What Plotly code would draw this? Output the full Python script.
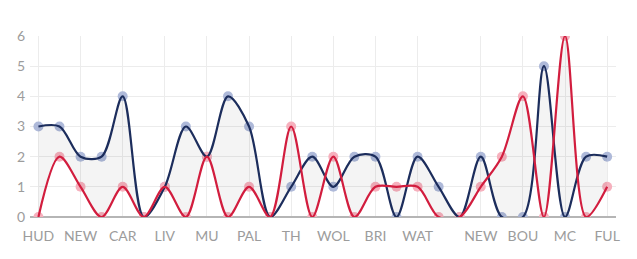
import plotly.graph_objects as go

# Match index positions (28 matches); labelled ticks only at some of them
match_index = list(range(28))
tick_positions = [0, 2, 4, 6, 8, 10, 12, 14, 16, 18, 21, 23, 25, 27]
tick_labels = ["HUD", "NEW", "CAR", "LIV", "MU", "PAL", "TH", "WOL", "BRI", "WAT", "NEW", "BOU", "MC", "FUL"]

blue_values = [3, 3, 2, 2, 4, 0, 1, 3, 2, 4, 3, 0, 1, 2,
               1, 2, 2, 0, 2, 1, 0, 2, 0, 0, 5, 0, 2, 2]
red_values = [0, 2, 1, 0, 1, 0, 1, 0, 2, 0, 1, 0, 3, 0,
              2, 0, 1, 1, 1, 0, 0, 1, 2, 4, 0, 6, 0, 1]

BLUE = "#1c2d5c"
RED = "#d21d3e"
BLUE_PT = "#aeb9d9"
RED_PT = "#f6b0bd"

fig = go.Figure()

# markers underneath
fig.add_trace(go.Scatter(x=match_index, y=blue_values, mode="markers",
                         marker=dict(size=10, color=BLUE_PT), hoverinfo="skip", showlegend=False))
fig.add_trace(go.Scatter(x=match_index, y=red_values, mode="markers",
                         marker=dict(size=10, color=RED_PT), hoverinfo="skip", showlegend=False))
# lines with fill between
fig.add_trace(go.Scatter(x=match_index, y=blue_values, mode="lines",
                         line=dict(color=BLUE, width=2.2, shape="spline", smoothing=0.9),
                         hoverinfo="skip", showlegend=False))
fig.add_trace(go.Scatter(x=match_index, y=red_values, mode="lines",
                         line=dict(color=RED, width=2.2, shape="spline", smoothing=0.9),
                         fill="tonexty", fillcolor="rgba(0,0,0,0.045)",
                         hoverinfo="skip", showlegend=False))

fig.update_layout(
    width=637, height=259,
    margin=dict(l=30, r=21, t=36, b=42),
    paper_bgcolor="white", plot_bgcolor="white",
    font=dict(family="Lato, sans-serif", size=14, color="#9c9c9c"),
    xaxis=dict(range=[-0.4, 27.42], tickmode="array", tickvals=tick_positions, ticktext=tick_labels,
               showgrid=True, gridcolor="#ececec", gridwidth=1, zeroline=False,
               showline=False, ticks="", ticklabelstandoff=9, tickfont=dict(size=14, color="#9c9c9c")),
    yaxis=dict(range=[0, 6], tickvals=[0, 1, 2, 3, 4, 5, 6], showgrid=True, gridcolor="#ececec",
               zeroline=True, zerolinecolor="#b5b5b5", zerolinewidth=2, showline=False,
               ticks="", ticklabelstandoff=4, tickfont=dict(size=14, color="#9c9c9c")),
)

fig.write_html("out.html")
